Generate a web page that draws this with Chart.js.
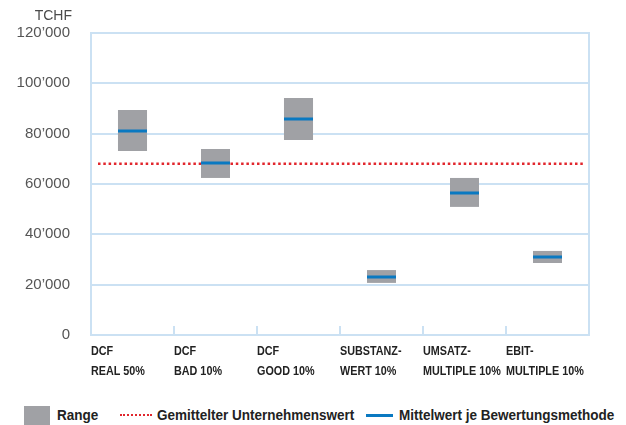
<!DOCTYPE html>
<html>
<head>
<meta charset="utf-8">
<script src="https://cdn.jsdelivr.net/npm/chart.js@4.4.1/dist/chart.umd.min.js"></script>
<style>
  body { margin: 0; background: #fff; }
  #wrap { position: relative; width: 626px; height: 425px; }
  #c { position: absolute; left: 0; top: 0; }
  #unit { position: absolute; right: 554px; top: 7px; font: 14px "Liberation Sans", Arial, sans-serif; color: #4a4a4a; }
  .lg { position: absolute; top: 405px; height: 20px; font: bold 15px "Liberation Sans", Arial, sans-serif; color: #222; line-height: 20px; white-space: nowrap; transform: scaleX(0.9); transform-origin: left center; }
  .sw { position: absolute; }
</style>
</head>
<body>
<div id="wrap">
  <canvas id="c" width="626" height="395"></canvas>
  <div id="unit">TCHF</div>
  <div class="sw" style="left:24px; top:406px; width:26px; height:19px; background:#a0a1a5;"></div>
  <div class="lg" style="left:57px;">Range</div>
  <div class="sw" style="left:120px; top:414px; width:32px; border-top:2px dotted #e1262d;"></div>
  <div class="lg" style="left:157px;">Gemittelter Unternehmenswert</div>
  <div class="sw" style="left:366px; top:414px; width:27px; height:3px; background:#0a79c1;"></div>
  <div class="lg" style="left:399px;">Mittelwert je Bewertungsmethode</div>
</div>
<script>
// Bewertungsmethoden
const categories = [
  ["DCF", "REAL 50%"],
  ["DCF", "BAD 10%"],
  ["DCF", "GOOD 10%"],
  ["SUBSTANZ-", "WERT 10%"],
  ["UMSATZ-", "MULTIPLE 10%"],
  ["EBIT-", "MULTIPLE 10%"]
];
const rangeLow = [73100, 62400, 77500, 20700, 50900, 28600];
const rangeHigh = [89400, 73900, 94200, 25800, 62400, 33400];
const meanValues = [81100, 68300, 85800, 23000, 56400, 31000];
const averageValue = 68000;
const yTicks = [0, 20000, 40000, 60000, 80000, 100000, 120000];

const gridBlue = "#cbe1f3";

function fmt(v) {
  if (v === 0) return "0";
  return String(v / 1000) + "\u2019000";
}

// rechter Rahmen, kleine Ticks innen, rote Durchschnittslinie
const framePlugin = {
  id: "frame",
  beforeDatasetsDraw(chart) {
    const { ctx, chartArea, scales } = chart;
    const x = scales.x;
    ctx.save();
    ctx.strokeStyle = gridBlue;
    ctx.lineWidth = 2;
    ctx.beginPath();
    ctx.moveTo(chartArea.right, chartArea.top - 1);
    ctx.lineTo(chartArea.right, chartArea.bottom + 1);
    for (let i = 1; i < categories.length; i++) {
      const px = (x.getPixelForValue(i - 1) + x.getPixelForValue(i)) / 2;
      ctx.moveTo(px, chartArea.bottom - 9);
      ctx.lineTo(px, chartArea.bottom);
    }
    ctx.stroke();

    const yy = scales.y.getPixelForValue(averageValue);
    ctx.strokeStyle = "#e1262d";
    ctx.lineWidth = 2.5;
    ctx.setLineDash([2.5, 2.8]);
    ctx.beginPath();
    ctx.moveTo(chartArea.left + 7, yy);
    ctx.lineTo(chartArea.right - 6, yy);
    ctx.stroke();
    ctx.restore();
  },
  // schmale, linksbündige Kategorienbeschriftung
  afterDraw(chart) {
    const { ctx, chartArea, scales } = chart;
    const x = scales.x;
    const half = (x.getPixelForValue(1) - x.getPixelForValue(0)) / 2;
    ctx.save();
    ctx.fillStyle = "#222";
    ctx.font = "bold 13px 'Liberation Sans', Arial, sans-serif";
    ctx.textBaseline = "alphabetic";
    ctx.textAlign = "left";
    categories.forEach((lines, i) => {
      const left = x.getPixelForValue(i) - half;
      lines.forEach((t, j) => {
        ctx.save();
        ctx.translate(left, chartArea.bottom + 20 + j * 20);
        ctx.scale(0.83, 1);
        ctx.fillText(t, 0, 0);
        ctx.restore();
      });
    });
    ctx.restore();
  }
};

new Chart(document.getElementById("c"), {
  data: {
    labels: categories,
    datasets: [
      {
        type: "bar",
        label: "Range",
        data: rangeLow.map((lo, i) => [lo, rangeHigh[i]]),
        backgroundColor: "#a0a1a5",
        borderWidth: 0,
        barPercentage: 0.35,
        categoryPercentage: 1,
        grouped: false,
        order: 2
      },
      {
        type: "line",
        label: "Mittelwert je Bewertungsmethode",
        data: meanValues,
        showLine: false,
        pointStyle: "line",
        pointRadius: 14.5,
        pointHoverRadius: 14.5,
        borderColor: "#0a79c1",
        pointBorderWidth: 3,
        order: 1
      }
    ]
  },
  options: {
    responsive: false,
    animation: false,
    layout: { padding: { left: 0, right: 37, top: 33, bottom: 0 } },
    plugins: { legend: { display: false }, tooltip: { enabled: false } },
    scales: {
      x: {
        offset: true,
        grid: { display: false },
        border: { display: true, color: gridBlue, width: 2 },
        ticks: { display: false },
        afterFit(scale) { scale.height = 60; scale.paddingLeft = 0; scale.paddingRight = 0; }
      },
      y: {
        min: 0,
        max: 120000,
        afterBuildTicks(scale) { scale.ticks = yTicks.map(v => ({ value: v })); },
        afterFit(scale) { scale.width = 91; },
        grid: { color: gridBlue, lineWidth: 2, drawTicks: false },
        border: { display: true, color: gridBlue, width: 2 },
        ticks: {
          padding: 21,
          color: "#555",
          font: { family: "'Liberation Sans', Arial, sans-serif", size: 15 },
          callback: v => fmt(v)
        }
      }
    }
  },
  plugins: [framePlugin]
});
</script>
</body>
</html>
